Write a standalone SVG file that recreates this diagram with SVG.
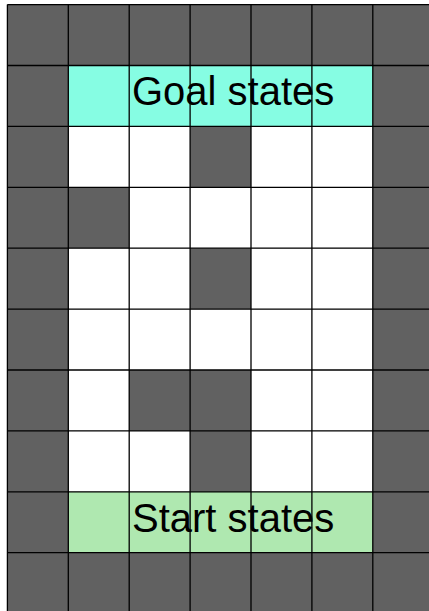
<svg xmlns="http://www.w3.org/2000/svg" width="429" height="611" viewBox="0 0 429 611">
<style>
.d{fill:#616161}
.w{fill:#ffffff}
.g{fill:#86fde3}
.s{fill:#afe8b0}
.t{font-family:"Liberation Sans",Arial,sans-serif;font-size:40px;fill:#000}
.grid{stroke:#000;stroke-width:1.3;fill:none}
</style>
<rect width="429" height="611" fill="#ffffff"/>
<g id="cells">
<rect class="d" x="7.4" y="4.6" width="426.3" height="609"/>
<rect class="g" x="68.3" y="65.5" width="304.5" height="60.9"/>
<rect class="s" x="68.3" y="491.8" width="304.5" height="60.9"/>
<rect class="w" x="68.3" y="126.4" width="121.8" height="60.9"/>
<rect class="w" x="251" y="126.4" width="121.8" height="60.9"/>
<rect class="w" x="129.2" y="187.3" width="243.6" height="60.9"/>
<rect class="w" x="68.3" y="248.2" width="121.8" height="60.9"/>
<rect class="w" x="251" y="248.2" width="121.8" height="60.9"/>
<rect class="w" x="68.3" y="309.1" width="304.5" height="60.9"/>
<rect class="w" x="68.3" y="370" width="60.9" height="60.9"/>
<rect class="w" x="251" y="370" width="121.8" height="60.9"/>
<rect class="w" x="68.3" y="430.9" width="121.8" height="60.9"/>
<rect class="w" x="251" y="430.9" width="121.8" height="60.9"/>
</g>
<g id="labels">
<text class="t" x="132" y="105">Goal states</text>
<text class="t" x="132" y="532">Start states</text>
</g>
<g id="gridlines">
<path class="grid" d="M7.4 4.6V611M68.3 4.6V611M129.2 4.6V611M190.1 4.6V611M251 4.6V611M311.9 4.6V611M372.8 4.6V611M7.4 4.6H429M7.4 65.5H429M7.4 126.4H429M7.4 187.3H429M7.4 248.2H429M7.4 309.1H429M7.4 370H429M7.4 430.9H429M7.4 491.8H429M7.4 552.7H429"/>
</g>
</svg>
